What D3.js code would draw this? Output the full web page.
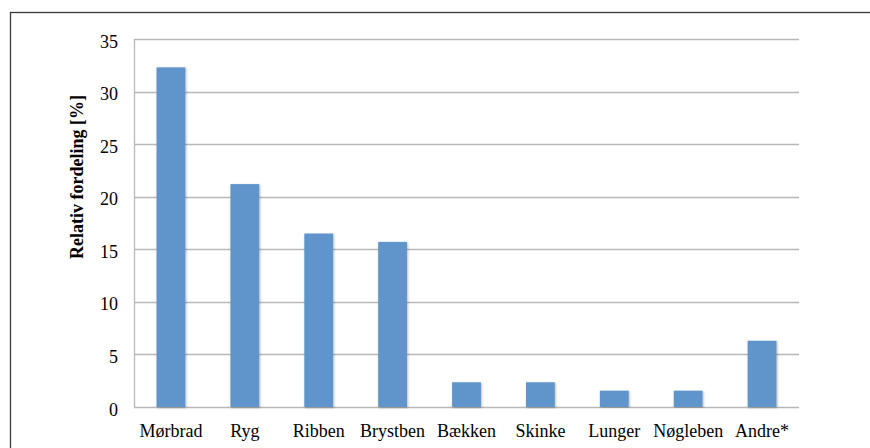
<!DOCTYPE html>
<html>
<head>
<meta charset="utf-8">
<script src="https://cdn.jsdelivr.net/npm/d3@7"></script>
<style>
  html, body { margin: 0; padding: 0; background: #fff; }
  svg { display: block; }
  text { font-family: "Liberation Serif", "Times New Roman", serif; fill: #000; }
</style>
</head>
<body>
<svg id="chart" width="870" height="448"></svg>
<script>
const categories = ["Mørbrad", "Ryg", "Ribben", "Brystben", "Bækken", "Skinke", "Lunger", "Nøgleben", "Andre*"];
const values = [32.3, 21.2, 16.5, 15.7, 2.35, 2.35, 1.55, 1.55, 6.3];
const yTicks = [0, 5, 10, 15, 20, 25, 30, 35];
const yLabel = "Relativ fordeling [%]";

const svg = d3.select("#chart");
const plot = { left: 134, right: 799, top: 39, bottom: 407 };
const fontSize = 18;

// outer frame (extends past the right and bottom edges)
svg.append("rect")
  .attr("x", 10.5).attr("y", 12.5)
  .attr("width", 900).attr("height", 500)
  .attr("fill", "none").attr("stroke", "#3a3a3a").attr("stroke-width", 1.3);

const x = d3.scaleBand().domain(categories).range([plot.left, plot.right]).paddingInner(0.61).paddingOuter(0.305);
const y = d3.scaleLinear().domain([0, 35]).range([plot.bottom, plot.top]);

const defs = svg.append("defs");
const f = defs.append("filter").attr("id", "shadow").attr("x", "-20%").attr("y", "-5%").attr("width", "140%").attr("height", "110%");
f.append("feDropShadow").attr("dx", 0.8).attr("dy", 0.8).attr("stdDeviation", 0.8).attr("flood-color", "#000").attr("flood-opacity", 0.3);

// gridlines
svg.append("g")
  .selectAll("line").data(yTicks).join("line")
  .attr("x1", plot.left).attr("x2", plot.right)
  .attr("y1", d => Math.round(y(d)) + 0.5).attr("y2", d => Math.round(y(d)) + 0.5)
  .attr("stroke", "#b8b8b8").attr("stroke-width", 1.3);

// y axis line
svg.append("line")
  .attr("x1", plot.left + 0.5).attr("x2", plot.left + 0.5)
  .attr("y1", plot.top).attr("y2", plot.bottom)
  .attr("stroke", "#b8b8b8").attr("stroke-width", 1.3);

// y axis tick labels
const yAxis = d3.axisLeft(y).tickValues(yTicks).tickSize(0).tickPadding(16);
const gy = svg.append("g").attr("transform", `translate(${plot.left},0)`).call(yAxis)
  .attr("font-size", fontSize).attr("font-family", null);
gy.select(".domain").remove();
gy.selectAll("text").attr("font-size", fontSize).attr("dy", "0.45em").attr("fill", "#000");

// bars
svg.append("g")
  .selectAll("rect").data(categories).join("rect")
  .attr("x", d => x(d))
  .attr("width", x.bandwidth())
  .attr("y", (d, i) => y(values[i]))
  .attr("height", (d, i) => y(0) - y(values[i]))
  .attr("fill", "#5f95cb")
  .attr("filter", "url(#shadow)");

// x axis labels
const xAxis = d3.axisBottom(x).tickSize(0).tickPadding(17);
const gx = svg.append("g").attr("transform", `translate(0,${plot.bottom})`).call(xAxis)
  .attr("font-size", fontSize).attr("font-family", null);
gx.select(".domain").remove();
gx.selectAll("text").attr("font-size", fontSize).attr("fill", "#000");

// y axis title
svg.append("text")
  .attr("transform", "translate(83,177) rotate(-90)")
  .attr("text-anchor", "middle")
  .attr("font-size", fontSize)
  .attr("font-weight", "bold")
  .text(yLabel);
</script>
</body>
</html>
